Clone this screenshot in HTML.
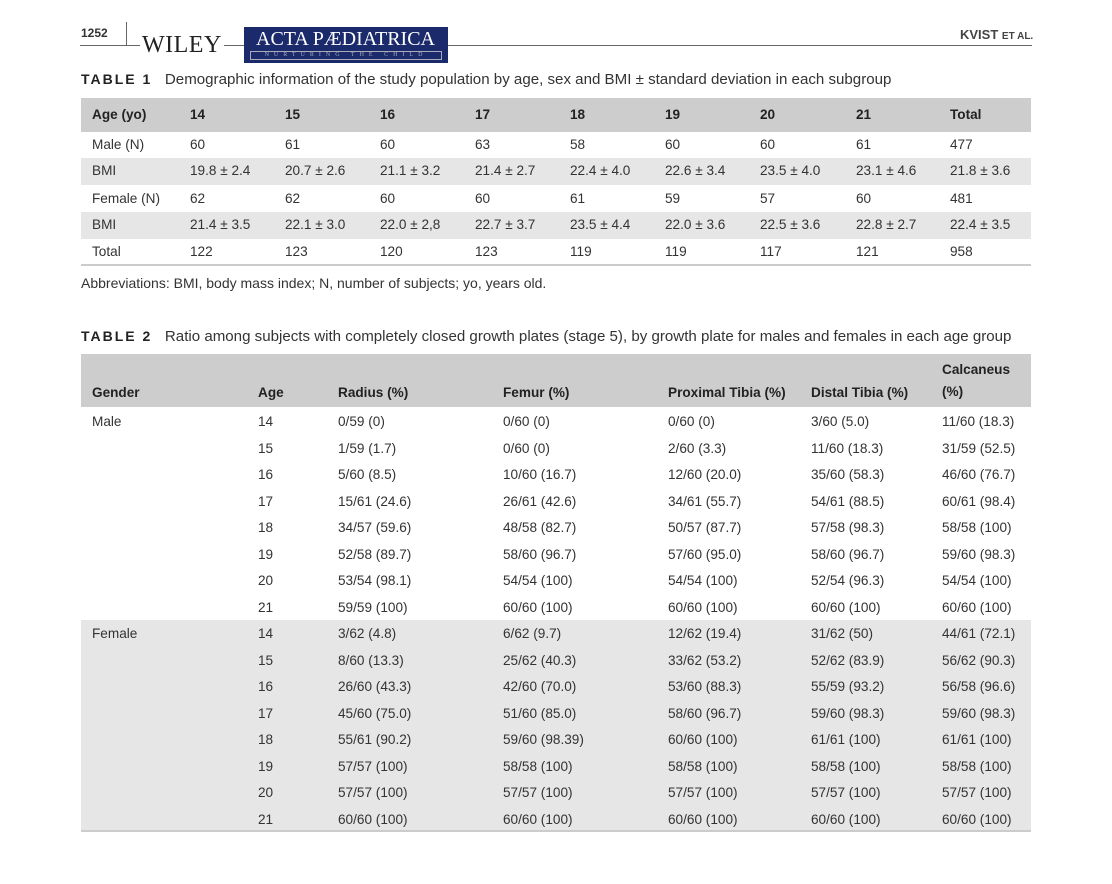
<!DOCTYPE html>
<html><head><meta charset="utf-8">
<style>
body{margin:0;background:#fff;width:1112px;height:884px;position:relative;overflow:hidden;font-family:"Liberation Sans",sans-serif;color:#333;font-size:13.6px;}
.a{position:absolute;white-space:nowrap}
.r{position:absolute;left:81px;width:950px;height:26px}
.r span{position:absolute;top:0;line-height:26px}
.b span{font-weight:bold;color:#222}
.g{background:#e6e6e6}
.h{background:#cdcdcd}
</style></head><body>
<div class="a" style="left:81px;top:26px;font-size:12px;font-weight:bold;">1252</div>
<div class="a" style="left:80px;top:45px;width:952px;height:1px;background:#666"></div>
<div class="a" style="left:126px;top:22px;width:1px;height:23px;background:#666"></div>
<div class="a" style="left:140px;top:32px;font-family:'Liberation Serif',serif;font-size:24px;background:#fff;padding:0 2px;color:#222;letter-spacing:0.5px">WILEY</div>
<div class="a" style="left:244px;top:27px;width:204px;height:36px;background:#1b2a6b;color:#fff;font-family:'Liberation Serif',serif;">
<div style="position:absolute;left:12px;top:1px;font-size:20px;">ACTA PÆDIATRICA</div>
<div style="position:absolute;left:6px;top:24px;width:190px;height:7px;border:1px solid #aab;font-size:6px;line-height:7px;text-align:center;letter-spacing:5px;color:#aab">NURTURING THE CHILD</div>
</div>
<div class="a" style="left:960px;top:27px;font-size:13px;font-weight:bold;color:#444">KVIST <span style="font-size:10px">ET AL.</span></div>

<div class="a" style="left:81px;top:71px;font-size:15.1px;"><b style="letter-spacing:2px;color:#222;font-size:14px">TABLE 1</b>&nbsp;&nbsp; Demographic information of the study population by age, sex and BMI ± standard deviation in each subgroup</div>

<div class="r h b" style="top:98px;height:34px"><span style="left:11px;line-height:34px">Age (yo)</span><span style="left:109px;line-height:34px">14</span><span style="left:204px;line-height:34px">15</span><span style="left:299px;line-height:34px">16</span><span style="left:394px;line-height:34px">17</span><span style="left:489px;line-height:34px">18</span><span style="left:584px;line-height:34px">19</span><span style="left:679px;line-height:34px">20</span><span style="left:775px;line-height:34px">21</span><span style="left:869px;line-height:34px">Total</span></div>
<div class="r" style="top:132px"><span style="left:11px">Male (N)</span><span style="left:109px">60</span><span style="left:204px">61</span><span style="left:299px">60</span><span style="left:394px">63</span><span style="left:489px">58</span><span style="left:584px">60</span><span style="left:679px">60</span><span style="left:775px">61</span><span style="left:869px">477</span></div>
<div class="r g" style="top:158px;height:27px"><span style="left:11px">BMI</span><span style="left:109px">19.8 ± 2.4</span><span style="left:204px">20.7 ± 2.6</span><span style="left:299px">21.1 ± 3.2</span><span style="left:394px">21.4 ± 2.7</span><span style="left:489px">22.4 ± 4.0</span><span style="left:584px">22.6 ± 3.4</span><span style="left:679px">23.5 ± 4.0</span><span style="left:775px">23.1 ± 4.6</span><span style="left:869px">21.8 ± 3.6</span></div>
<div class="r" style="top:186px"><span style="left:11px">Female (N)</span><span style="left:109px">62</span><span style="left:204px">62</span><span style="left:299px">60</span><span style="left:394px">60</span><span style="left:489px">61</span><span style="left:584px">59</span><span style="left:679px">57</span><span style="left:775px">60</span><span style="left:869px">481</span></div>
<div class="r g" style="top:212px;height:27px"><span style="left:11px">BMI</span><span style="left:109px">21.4 ± 3.5</span><span style="left:204px">22.1 ± 3.0</span><span style="left:299px">22.0 ± 2,8</span><span style="left:394px">22.7 ± 3.7</span><span style="left:489px">23.5 ± 4.4</span><span style="left:584px">22.0 ± 3.6</span><span style="left:679px">22.5 ± 3.6</span><span style="left:775px">22.8 ± 2.7</span><span style="left:869px">22.4 ± 3.5</span></div>
<div class="r" style="top:239px;border-bottom:2px solid #ccc;height:25px"><span style="left:11px">Total</span><span style="left:109px">122</span><span style="left:204px">123</span><span style="left:299px">120</span><span style="left:394px">123</span><span style="left:489px">119</span><span style="left:584px">119</span><span style="left:679px">117</span><span style="left:775px">121</span><span style="left:869px">958</span></div>
<div class="a" style="left:81px;top:275px;font-size:14px">Abbreviations: BMI, body mass index; N, number of subjects; yo, years old.</div>

<div class="a" style="left:81px;top:328px;font-size:15.1px;"><b style="letter-spacing:2px;color:#222;font-size:14px">TABLE 2</b>&nbsp;&nbsp; Ratio among subjects with completely closed growth plates (stage 5), by growth plate for males and females in each age group</div>

<div class="r h b" style="top:354px;height:53px"><span style="left:11px;top:26px">Gender</span><span style="left:177px;top:26px">Age</span><span style="left:257px;top:26px">Radius (%)</span><span style="left:422px;top:26px">Femur (%)</span><span style="left:587px;top:26px">Proximal Tibia (%)</span><span style="left:730px;top:26px">Distal Tibia (%)</span><span style="left:861px;top:5px;line-height:22px">Calcaneus<br>(%)</span></div>

<div class="r" style="top:409px"><span style="left:11px">Male</span><span style="left:177px">14</span><span style="left:257px">0/59 (0)</span><span style="left:422px">0/60 (0)</span><span style="left:587px">0/60 (0)</span><span style="left:730px">3/60 (5.0)</span><span style="left:861px">11/60 (18.3)</span></div>
<div class="r" style="top:435.5px"><span style="left:177px">15</span><span style="left:257px">1/59 (1.7)</span><span style="left:422px">0/60 (0)</span><span style="left:587px">2/60 (3.3)</span><span style="left:730px">11/60 (18.3)</span><span style="left:861px">31/59 (52.5)</span></div>
<div class="r" style="top:462px"><span style="left:177px">16</span><span style="left:257px">5/60 (8.5)</span><span style="left:422px">10/60 (16.7)</span><span style="left:587px">12/60 (20.0)</span><span style="left:730px">35/60 (58.3)</span><span style="left:861px">46/60 (76.7)</span></div>
<div class="r" style="top:488.5px"><span style="left:177px">17</span><span style="left:257px">15/61 (24.6)</span><span style="left:422px">26/61 (42.6)</span><span style="left:587px">34/61 (55.7)</span><span style="left:730px">54/61 (88.5)</span><span style="left:861px">60/61 (98.4)</span></div>
<div class="r" style="top:515px"><span style="left:177px">18</span><span style="left:257px">34/57 (59.6)</span><span style="left:422px">48/58 (82.7)</span><span style="left:587px">50/57 (87.7)</span><span style="left:730px">57/58 (98.3)</span><span style="left:861px">58/58 (100)</span></div>
<div class="r" style="top:541.5px"><span style="left:177px">19</span><span style="left:257px">52/58 (89.7)</span><span style="left:422px">58/60 (96.7)</span><span style="left:587px">57/60 (95.0)</span><span style="left:730px">58/60 (96.7)</span><span style="left:861px">59/60 (98.3)</span></div>
<div class="r" style="top:568px"><span style="left:177px">20</span><span style="left:257px">53/54 (98.1)</span><span style="left:422px">54/54 (100)</span><span style="left:587px">54/54 (100)</span><span style="left:730px">52/54 (96.3)</span><span style="left:861px">54/54 (100)</span></div>
<div class="r" style="top:594.5px"><span style="left:177px">21</span><span style="left:257px">59/59 (100)</span><span style="left:422px">60/60 (100)</span><span style="left:587px">60/60 (100)</span><span style="left:730px">60/60 (100)</span><span style="left:861px">60/60 (100)</span></div>

<div class="a g" style="left:81px;top:620px;width:950px;height:210px;"></div>
<div class="a" style="left:81px;top:830px;width:950px;height:2px;background:#ccc"></div>
<div class="r" style="top:621px"><span style="left:11px">Female</span><span style="left:177px">14</span><span style="left:257px">3/62 (4.8)</span><span style="left:422px">6/62 (9.7)</span><span style="left:587px">12/62 (19.4)</span><span style="left:730px">31/62 (50)</span><span style="left:861px">44/61 (72.1)</span></div>
<div class="r" style="top:647.5px"><span style="left:177px">15</span><span style="left:257px">8/60 (13.3)</span><span style="left:422px">25/62 (40.3)</span><span style="left:587px">33/62 (53.2)</span><span style="left:730px">52/62 (83.9)</span><span style="left:861px">56/62 (90.3)</span></div>
<div class="r" style="top:674px"><span style="left:177px">16</span><span style="left:257px">26/60 (43.3)</span><span style="left:422px">42/60 (70.0)</span><span style="left:587px">53/60 (88.3)</span><span style="left:730px">55/59 (93.2)</span><span style="left:861px">56/58 (96.6)</span></div>
<div class="r" style="top:700.5px"><span style="left:177px">17</span><span style="left:257px">45/60 (75.0)</span><span style="left:422px">51/60 (85.0)</span><span style="left:587px">58/60 (96.7)</span><span style="left:730px">59/60 (98.3)</span><span style="left:861px">59/60 (98.3)</span></div>
<div class="r" style="top:727px"><span style="left:177px">18</span><span style="left:257px">55/61 (90.2)</span><span style="left:422px">59/60 (98.39)</span><span style="left:587px">60/60 (100)</span><span style="left:730px">61/61 (100)</span><span style="left:861px">61/61 (100)</span></div>
<div class="r" style="top:753.5px"><span style="left:177px">19</span><span style="left:257px">57/57 (100)</span><span style="left:422px">58/58 (100)</span><span style="left:587px">58/58 (100)</span><span style="left:730px">58/58 (100)</span><span style="left:861px">58/58 (100)</span></div>
<div class="r" style="top:780px"><span style="left:177px">20</span><span style="left:257px">57/57 (100)</span><span style="left:422px">57/57 (100)</span><span style="left:587px">57/57 (100)</span><span style="left:730px">57/57 (100)</span><span style="left:861px">57/57 (100)</span></div>
<div class="r" style="top:806.5px"><span style="left:177px">21</span><span style="left:257px">60/60 (100)</span><span style="left:422px">60/60 (100)</span><span style="left:587px">60/60 (100)</span><span style="left:730px">60/60 (100)</span><span style="left:861px">60/60 (100)</span></div>
</body></html>
